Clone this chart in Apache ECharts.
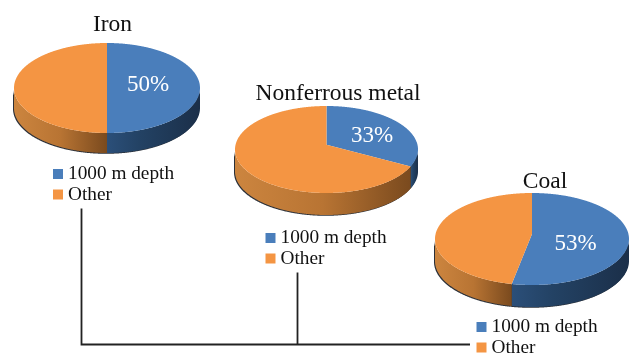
<!DOCTYPE html>
<html>
<head>
<meta charset="utf-8">
<style>html,body{margin:0;padding:0;background:#fff}#chart{width:630px;height:353px}</style>
<script src="https://cdn.jsdelivr.net/npm/echarts@6/dist/echarts.min.js"></script>
</head>
<body>
<div id="chart"></div>
<script>
// Share of reserves per mineral, percent
const minerals = ['Iron', 'Nonferrous metal', 'Coal'];
const depthShare = [50, 33, 53];
const otherShare = [50, 67, 47];
const seriesNames = ['1000 m depth', 'Other'];

// Placement of each disc on the page
const discs = [
  { cx: 107, cy: 88, rx: 93, ry: 45, depth: 20, labelX: 148, labelY: 85, titleX: 112.5, titleTop: 13, legendX: 53, legendTop: 164.5 },
  { cx: 326.5, cy: 149.5, rx: 91.5, ry: 43.5, depth: 22, labelX: 372, labelY: 136, titleX: 338, titleTop: 82, legendX: 265.5, legendTop: 228.5 },
  { cx: 532, cy: 239, rx: 97, ry: 46, depth: 22, labelX: 575.5, labelY: 244, titleX: 545, titleTop: 170, legendX: 476.5, legendTop: 317.5 }
];

const TILT = -0.11; // perspective shift of the disc centre
const FONT = '"Liberation Serif", "Times New Roman", serif';
const topColors = ['#4a7ebb', '#f49543'];
const wallStops = [
  [{ offset: 0, color: '#2b4f79' }, { offset: 0.35, color: '#234264' }, { offset: 1, color: '#1b2f49' }],
  [{ offset: 0, color: '#cc853f' }, { offset: 0.5, color: '#b87433' }, { offset: 1, color: '#7a4a1e' }]
];

// Maps a clockwise angle from twelve o'clock onto the tilted disc rim
function rimPoint(d, deg) {
  const t = deg * Math.PI / 180;
  const u = Math.sin(t), v = -Math.cos(t);
  const w = 1 + TILT * v;
  const nx = u * Math.sqrt(1 - TILT * TILT) / w;
  const ny = (v + TILT) / w;
  return { x: d.cx + d.rx * nx, y: d.cy + d.ry * ny, front: ny >= 0 };
}

// The projected centre of the disc, where the slices meet
function rimCentre(d) {
  return { x: d.cx, y: d.cy + d.ry * TILT };
}

function sliceItem(kind) {
  return function (params, api) {
    const d = discs[api.value(2)];
    const value = api.value(0);
    const startDeg = api.value(1) * 3.6;
    const endDeg = startDeg + value * 3.6;
    const steps = Math.max(2, Math.ceil((endDeg - startDeg) * 3));
    const rim = [];
    for (let i = 0; i <= steps; i++) {
      rim.push(rimPoint(d, startDeg + (endDeg - startDeg) * i / steps));
    }
    const apex = rimCentre(d);
    const top = [[apex.x, apex.y]].concat(rim.map(p => [p.x, p.y]));
    const front = rim.filter(p => p.front);
    const children = [];
    if (front.length > 1) {
      const upper = front.map(p => [p.x, p.y]);
      const lower = front.map(p => [p.x, p.y + d.depth]).reverse();
      const wall = upper.concat(lower);
      const xs = upper.map(p => p[0]);
      children.push({
        type: 'polygon', z2: 0,
        shape: { points: wall.map(p => [p[0] - 1, p[1] + 0.8]) },
        style: { fill: '#2b3038' }
      });
      children.push({
        type: 'polygon', z2: 1,
        shape: { points: wall },
        style: {
          fill: new echarts.graphic.LinearGradient(Math.min.apply(null, xs), 0, Math.max.apply(null, xs), 0, wallStops[kind], true)
        }
      });
    }
    children.push({
      type: 'polygon', z2: 2,
      shape: { points: top },
      style: { fill: topColors[kind] }
    });
    if (kind === 0) {
      children.push({
        type: 'text', z2: 3, x: d.labelX, y: d.labelY,
        style: { text: value + '%', fill: '#fff', font: '23px ' + FONT, align: 'center', verticalAlign: 'middle' }
      });
    }
    return { type: 'group', children: children };
  };
}

const series = [];
minerals.forEach(function (m, i) {
  [depthShare[i], otherShare[i]].forEach(function (v, kind) {
    series.push({
      type: 'custom',
      name: seriesNames[kind],
      coordinateSystem: 'none',
      silent: true,
      itemStyle: { color: topColors[kind] },
      renderItem: sliceItem(kind),
      data: [[v, kind === 0 ? 0 : depthShare[i], i]]
    });
  });
});

const chart = echarts.init(document.getElementById('chart'), null, { renderer: 'canvas' });
chart.setOption({
  animation: false,
  backgroundColor: '#fff',
  title: minerals.map(function (m, i) {
    return {
      text: m, left: discs[i].titleX, top: discs[i].titleTop, textAlign: 'center', padding: 0,
      textStyle: { fontFamily: FONT, fontSize: 23.5, fontWeight: 'normal', color: '#111' }
    };
  }),
  legend: discs.map(function (d) {
    return {
      data: seriesNames, orient: 'vertical', left: d.legendX, top: d.legendTop, height: 60, padding: 0,
      icon: 'rect', itemWidth: 10, itemHeight: 10, itemGap: 1.5, selectedMode: false,
      textStyle: { fontFamily: FONT, fontSize: 19.3, color: '#111', padding: 0 }
    };
  }),
  graphic: [
    { type: 'polyline', shape: { points: [[81.5, 208.5], [81.5, 344.5], [470, 344.5]] }, style: { stroke: '#222', lineWidth: 1.8, fill: null } },
    { type: 'line', shape: { x1: 297.5, y1: 272.5, x2: 297.5, y2: 344.5 }, style: { stroke: '#222', lineWidth: 1.8 } }
  ],
  series: series
});
</script>
</body>
</html>
